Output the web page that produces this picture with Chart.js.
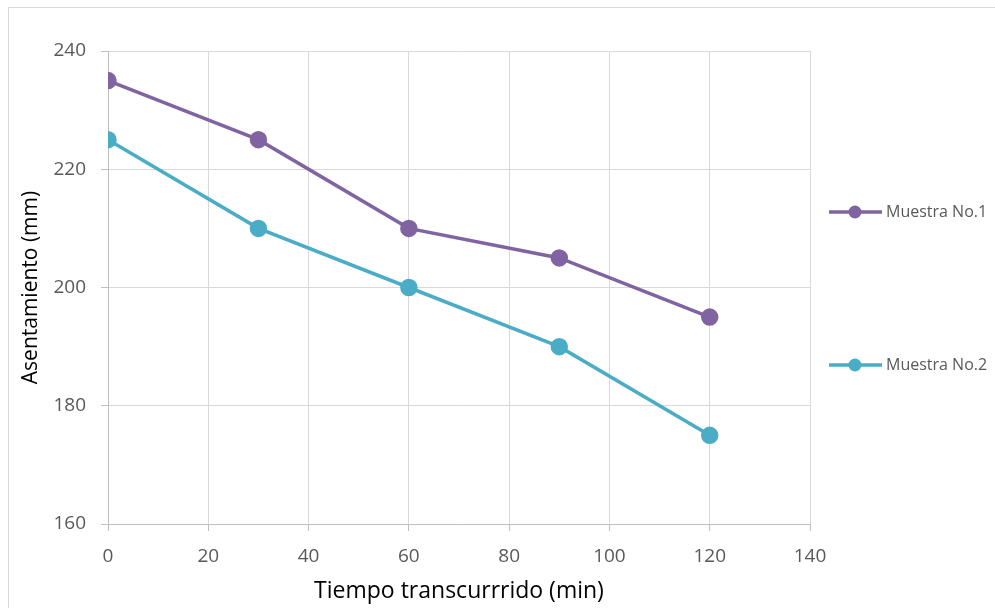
<!DOCTYPE html>
<html>
<head>
<meta charset="utf-8">
<script src="https://cdn.jsdelivr.net/npm/chart.js@4.4.0/dist/chart.umd.min.js"></script>
<style>
  body { margin: 0; background: #fff; }
  #wrap { position: relative; width: 995px; height: 608px; }
  #frame { position: absolute; left: 8px; top: 7px; width: 995px; height: 620px; border: 1px solid #d9d9d9; box-sizing: border-box; }
  canvas { position: absolute; left: 0; top: 0; }
</style>
</head>
<body>
<div id="wrap">
  <div id="frame"></div>
  <canvas id="chart" width="995" height="608"></canvas>
</div>
<script>
// --- DATA ---
const tiempos = [0, 30, 60, 90, 120];
const muestra1 = [235, 225, 210, 205, 195];
const muestra2 = [225, 210, 200, 190, 175];
const seriesNames = ['Muestra No.1', 'Muestra No.2'];
const xTicks = [0, 20, 40, 60, 80, 100, 120, 140];
const yTicks = [160, 180, 200, 220, 240];

const colors = ['#8064a2', '#4bacc6'];
const fontFam = '"Open Sans", "Noto Sans", sans-serif';

// legend drawn on the right, Excel style
const sideLegend = {
    id: 'sideLegend',
    afterDraw(chart) {
        const ctx = chart.ctx;
        const rows = [212, 365];
        chart.data.datasets.forEach((ds, i) => {
            const y = rows[i];
            ctx.save();
            ctx.strokeStyle = ds.borderColor;
            ctx.lineWidth = 3.5;
            ctx.beginPath();
            ctx.moveTo(829, y);
            ctx.lineTo(882, y);
            ctx.stroke();
            ctx.fillStyle = ds.backgroundColor;
            ctx.beginPath();
            ctx.arc(855, y, 6.5, 0, Math.PI * 2);
            ctx.fill();
            ctx.fillStyle = '#595959';
            ctx.font = '16px ' + fontFam;
            ctx.textBaseline = 'middle';
            ctx.fillText(ds.label, 886, y);
            ctx.restore();
        });
    }
};

const toPoints = vals => vals.map((v, i) => ({ x: tiempos[i], y: v }));

new Chart(document.getElementById('chart'), {
    type: 'line',
    data: {
        datasets: [
            { label: seriesNames[0], data: toPoints(muestra1), borderColor: colors[0], backgroundColor: colors[0],
              borderWidth: 3.5, pointRadius: 7, pointHoverRadius: 7, tension: 0 },
            { label: seriesNames[1], data: toPoints(muestra2), borderColor: colors[1], backgroundColor: colors[1],
              borderWidth: 3.5, pointRadius: 7, pointHoverRadius: 7, tension: 0 }
        ]
    },
    options: {
        responsive: false,
        animation: false,
        layout: { padding: { left: 0, right: 185, top: 51, bottom: 0 } },
        plugins: { legend: { display: false }, tooltip: { enabled: false } },
        scales: {
            x: {
                type: 'linear', min: 0, max: 140,
                afterBuildTicks: s => { s.ticks = xTicks.map(v => ({ value: v })); },
                afterFit: s => { s.height = 84; },
                grid: { color: '#d9d9d9', lineWidth: 1, tickLength: 7, tickColor: '#bfbfbf' },
                border: { color: '#bfbfbf', width: 1 },
                ticks: { color: '#595959', font: { family: fontFam, size: 19 }, padding: 14, maxRotation: 0 },
                title: { display: true, text: 'Tiempo transcurrrido (min)', color: '#000',
                         font: { family: fontFam, size: 23 }, padding: { top: 0, bottom: 3 } }
            },
            y: {
                type: 'linear', min: 160, max: 240,
                afterBuildTicks: s => { s.ticks = yTicks.map(v => ({ value: v })); },
                afterFit: s => { s.width = 108; },
                grid: { color: '#d9d9d9', lineWidth: 1, tickLength: 7, tickColor: '#bfbfbf' },
                border: { color: '#bfbfbf', width: 1 },
                ticks: { color: '#595959', font: { family: fontFam, size: 19 }, padding: 15 },
                title: { display: true, text: 'Asentamiento (mm)', color: '#000',
                         font: { family: fontFam, size: 21 }, padding: { top: 18, bottom: 0 } }
            }
        }
    },
    plugins: [sideLegend]
});
</script>
</body>
</html>
